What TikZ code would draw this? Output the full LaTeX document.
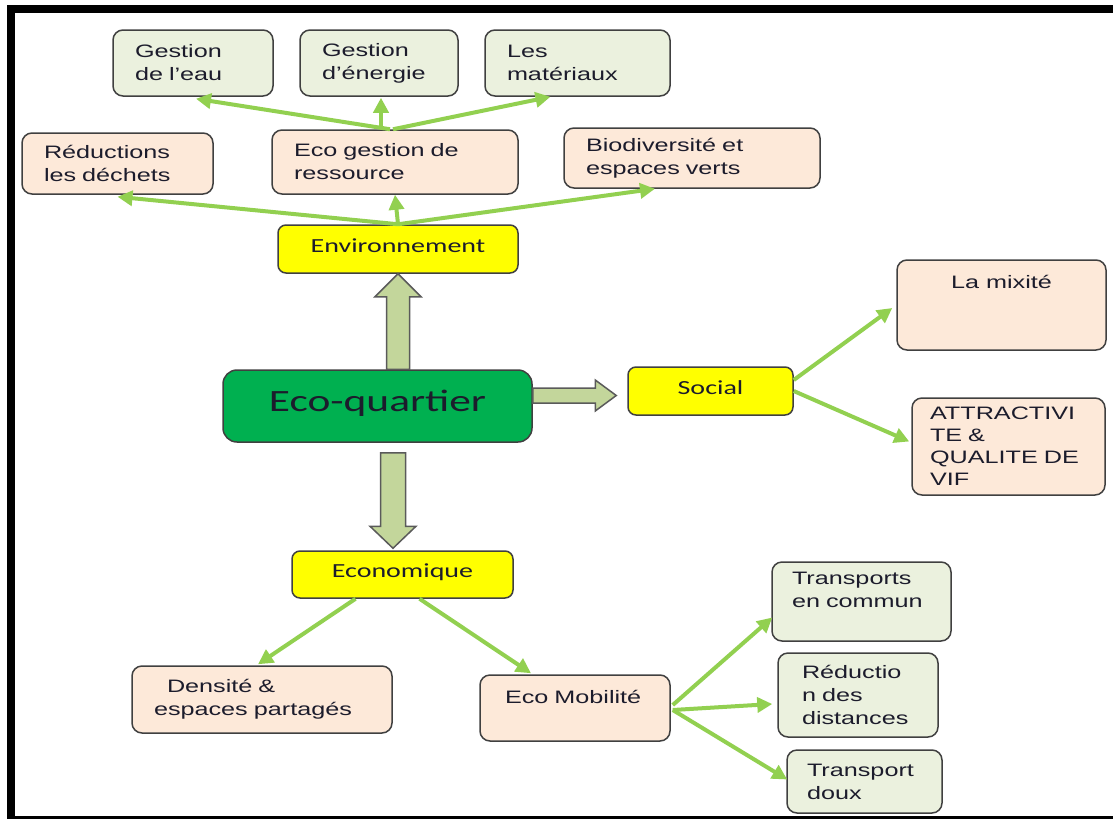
\documentclass[tikz,border=0pt]{standalone}
\usepackage{fontspec}
\setmainfont{Liberation Sans}[FakeStretch=1.4]
\newfontfamily\calibfont{Carlito}[FakeStretch=1.4]
\usetikzlibrary{positioning,calc,arrows.meta}
\definecolor{ecoGreenLine}{HTML}{92D050}
\definecolor{ecoBlockFill}{HTML}{C3D69B}
\definecolor{ecoBlockLine}{HTML}{5A5A5A}
\definecolor{ecoBoxLine}{HTML}{404040}
\definecolor{ecoPeachFill}{HTML}{FDE9D9}
\definecolor{ecoMintFill}{HTML}{EBF1DE}
\definecolor{ecoYellowFill}{HTML}{FFFF00}
\definecolor{ecoMainFill}{HTML}{00B050}
\definecolor{ecoText}{HTML}{1C1C2C}
\tikzset{
  leaf/.style={
    draw=ecoBoxLine, line width=0.75pt, rounded corners=5pt,
    inner xsep=11pt, inner ysep=0pt, align=left, text=ecoText,
    font=\fontsize{9}{11.5}\selectfont,
  },
  peach leaf/.style={leaf, fill=ecoPeachFill},
  mint leaf/.style={leaf, fill=ecoMintFill},
  pillar/.style={
    draw=ecoBoxLine, line width=0.75pt, rounded corners=4pt,
    fill=ecoYellowFill, minimum height=24pt, text=ecoText,
    text height=7pt, text depth=4pt,
    font=\calibfont\fontsize{10}{12}\selectfont,
  },
  branch arrow/.style={
    -{Triangle[length=7.5pt, width=7.5pt]},
    line width=2pt, color=ecoGreenLine,
  },
  block arrow/.style={
    draw=ecoBlockLine, fill=ecoBlockFill, line width=0.75pt,
  },
}

\begin{document}
\begin{tikzpicture}[x=0.5pt, y=-0.5pt]

\useasboundingbox (0,0) rectangle (1113,819);

% --- FRAME ---
\fill[black] (7,5) rectangle (1113,13);
\fill[black] (7,5) rectangle (15,819);
\fill[black] (7,816) rectangle (1113,819);

% --- CENTRE AND PILLARS ---
\node[draw=ecoBoxLine, fill=ecoMainFill, line width=0.75pt, rounded corners=7pt,
      minimum width=154.5pt, minimum height=36pt, text=ecoText,
      text height=11pt, text depth=6pt,
      font=\calibfont\fontsize{15.5}{18}\selectfont]
  (quartier) at (377.5, 406) {Eco-quartier};
\node[pillar, minimum width=120pt]  (env)    at (398, 249)   {Environnement};
\node[pillar, minimum width=82.5pt] (social) at (710.5, 391) {Social};
\node[pillar, minimum width=110.5pt, minimum height=23.5pt]
  (econ) at (402.5, 574.5) {Economique};

% --- ENVIRONNEMENT BOXES ---
\node[peach leaf, minimum width=95.5pt, minimum height=30.5pt, text width=73.5pt]
  (dechets) at (117.5, 163.5) {Réductions\\les déchets};
\node[peach leaf, minimum width=123pt, minimum height=32pt, text width=101pt]
  (ressource) at (395, 162) {Eco gestion de\\ressource};
\node[peach leaf, minimum width=128pt, minimum height=30pt, text width=106pt]
  (biodiv) at (692, 158) {Biodiversité et\\espaces verts};
\node[mint leaf, minimum width=80pt, minimum height=33pt, text width=58pt]
  (eau) at (193, 63) {Gestion\\de l'eau};
\node[mint leaf, minimum width=79pt, minimum height=33pt, text width=57pt]
  (energie) at (379, 63) {Gestion\\d'énergie};
\node[mint leaf, minimum width=92.5pt, minimum height=33pt, text width=70.5pt]
  (materiaux) at (577.5, 63) {Les\\matériaux};

% --- SOCIAL BOXES ---
\node[peach leaf, align=center, minimum width=104.5pt, minimum height=45pt]
  (mixite) at (1001.5, 305) {La mixité\\\mbox{}\\\mbox{}};
\node[peach leaf, inner xsep=9pt, minimum width=96.5pt, minimum height=48.5pt,
      text width=78.5pt, font=\fontsize{9}{11}\selectfont]
  (attract) at (1008.5, 446.5) {ATTRACTIVI\\TE \&\\QUALITE DE\\VIF};

% --- ECONOMIQUE BOXES ---
\node[peach leaf, minimum width=130pt, minimum height=33.5pt, text width=108pt]
  (densite) at (262, 699.5) {\hspace*{6.5pt}Densité \&\\espaces partagés};
\node[peach leaf, inner xsep=12.5pt, minimum width=95pt, minimum height=33pt,
      text width=70pt]
  (mobilite) at (575, 708) {Eco Mobilité\\\mbox{}};
\node[mint leaf, inner xsep=10pt, minimum width=89.5pt, minimum height=39.5pt,
      text width=69.5pt]
  (commun) at (861.5, 601.5) {Transports\\en commun\\\mbox{}};
\node[mint leaf, inner xsep=12pt, minimum width=80pt, minimum height=42pt,
      text width=56pt]
  (distances) at (858, 695) {Réductio\\n des\\distances};
\node[mint leaf, inner xsep=10pt, minimum width=77.5pt, minimum height=31.5pt,
      text width=57.5pt]
  (doux) at (864.5, 781.5) {Transport\\doux};

% --- BLOCK ARROWS FROM THE CENTRE ---
\draw[block arrow]
  ($(env.south |- quartier.north)+(-11.5,0)$) -- ($(env.south)+(-11.5,23)$)
  -- ($(env.south)+(-23,23)$) -- (env.south) -- ($(env.south)+(23,23)$)
  -- ($(env.south)+(11.5,23)$) -- ($(env.south |- quartier.north)+(11.5,0)$) -- cycle;
\coordinate (qeast) at ($(quartier.east)+(0,-10.5)$);
\coordinate (stip) at ($(social.west |- qeast)+(-11,0)$);
\draw[block arrow]
  ($(qeast)+(0,-7.5)$) -- ($(stip)+(-21,-7.5)$) -- ($(stip)+(-21,-15.5)$) -- (stip)
  -- ($(stip)+(-21,15.5)$) -- ($(stip)+(-21,7.5)$) -- ($(qeast)+(0,7.5)$) -- cycle;
\coordinate (qsouth) at ($(quartier.south)+(15.5,10)$);
\coordinate (etip) at ($(qsouth |- econ.north)+(0,-2)$);
\draw[block arrow]
  ($(qsouth)+(-12.5,0)$) -- ($(etip)+(-12.5,-22)$) -- ($(etip)+(-23,-22)$) -- (etip)
  -- ($(etip)+(23,-22)$) -- ($(etip)+(12.5,-22)$) -- ($(qsouth)+(12.5,0)$) -- cycle;

% --- GREEN BRANCHES ---
\draw[branch arrow] (env.north) -- ($(dechets.south)+(0,2)$);
\draw[branch arrow] (env.north) -- (ressource.south);
\draw[branch arrow] (env.north) -- ($(biodiv.south)+(-37,0)$);
\draw[branch arrow] ($(ressource.north)+(-5,0)$) -- ($(eau.south)+(3,2)$);
\draw[branch arrow] ($(ressource.north)+(-14,0)$) -- ($(energie.south)+(2,1)$);
\draw[branch arrow] ($(ressource.north)+(-2,0)$) -- ($(materiaux.south)+(-27,0)$);

\draw[branch arrow] ($(social.east)+(0,-11)$) -- ($(mixite.west)+(-4,3)$);
\draw[branch arrow] (social.east) -- ($(attract.west)+(-2,-5)$);

\draw[branch arrow] ($(econ.south)+(-47,0)$) -- ($(densite.north)+(-4,-1)$);
\draw[branch arrow] ($(econ.south)+(17,0)$) -- ($(mobilite.north)+(-44,-1)$);

\draw[branch arrow] ($(mobilite.east)+(2,-3)$) -- ($(commun.west)+(1,16)$);
\draw[branch arrow] ($(mobilite.east)+(2,2)$) -- ($(distances.west)+(-5,9)$);
\draw[branch arrow] ($(mobilite.east)+(2,2)$) -- ($(doux.west)+(1,-2)$);

\end{tikzpicture}
\end{document}
